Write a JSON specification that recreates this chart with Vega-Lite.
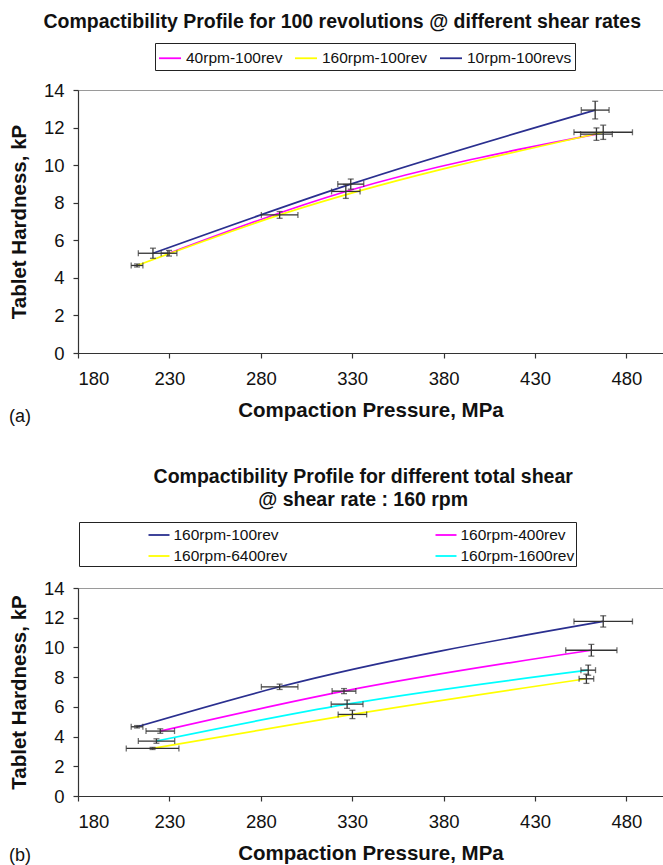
{
  "$schema": "https://vega.github.io/schema/vega-lite/v6.json",
  "background": "white",
  "padding": {"left": 8, "top": 11, "right": 0, "bottom": 0},
  "config": {
    "font": "Liberation Sans",
    "view": {"stroke": "#9a9a9a", "strokeWidth": 1},
    "axis": {"grid": false, "labelFont": "Liberation Sans", "labelFontSize": 18.5, "labelColor": "#111", "titleFont": "Liberation Sans", "titleFontSize": 20.5, "titleFontWeight": "bold", "titleColor": "#111", "domainColor": "#333", "tickColor": "#333", "tickSize": 5, "domainWidth": 1.2, "tickWidth": 1.2},
    "axisX": {"labelPadding": 11, "titlePadding": 13},
    "axisY": {"labelPadding": 9, "titlePadding": 14},
    "legend": {"labelFont": "Liberation Sans", "labelFontSize": 15.5, "labelColor": "#111", "symbolType": "stroke", "symbolStrokeWidth": 1.8, "strokeColor": "#222", "padding": 4},
    "title": {"font": "Liberation Sans", "fontSize": 19.5, "fontWeight": "bold", "color": "#111"},
    "concat": {"spacing": 40}
  },
  "datasets": {
    "a": [
      {"series": "10rpm-100revs", "x": 221.0, "y": 5.31, "xlo": 213.0, "xhi": 229.0, "ylo": 5.04, "yhi": 5.58},
      {"series": "10rpm-100revs", "x": 329.2, "y": 8.99, "xlo": 322.1, "xhi": 336.3, "ylo": 8.72, "yhi": 9.26},
      {"series": "10rpm-100revs", "x": 462.9, "y": 12.93, "xlo": 455.3, "xhi": 470.5, "ylo": 12.46, "yhi": 13.4},
      {"series": "40rpm-100rev", "x": 229.8, "y": 5.31, "xlo": 225.5, "xhi": 234.1, "ylo": 5.16, "yhi": 5.46},
      {"series": "40rpm-100rev", "x": 326.5, "y": 8.6, "xlo": 318.7, "xhi": 334.3, "ylo": 8.23, "yhi": 8.97},
      {"series": "40rpm-100rev", "x": 463.6, "y": 11.65, "xlo": 454.9, "xhi": 472.3, "ylo": 11.32, "yhi": 11.98},
      {"series": "160rpm-100rev", "x": 212.3, "y": 4.66, "xlo": 209.1, "xhi": 215.5, "ylo": 4.58, "yhi": 4.74},
      {"series": "160rpm-100rev", "x": 290.3, "y": 7.35, "xlo": 280.3, "xhi": 300.3, "ylo": 7.17, "yhi": 7.53},
      {"series": "160rpm-100rev", "x": 467.3, "y": 11.75, "xlo": 451.3, "xhi": 483.3, "ylo": 11.37, "yhi": 12.13}
    ],
    "b": [
      {"series": "160rpm-100rev", "x": 212.3, "y": 4.66, "xlo": 209.1, "xhi": 215.5, "ylo": 4.58, "yhi": 4.74},
      {"series": "160rpm-100rev", "x": 290.3, "y": 7.35, "xlo": 280.3, "xhi": 300.3, "ylo": 7.17, "yhi": 7.53},
      {"series": "160rpm-100rev", "x": 467.3, "y": 11.75, "xlo": 451.3, "xhi": 483.3, "ylo": 11.37, "yhi": 12.13},
      {"series": "160rpm-400rev", "x": 225.0, "y": 4.37, "xlo": 217.2, "xhi": 232.8, "ylo": 4.22, "yhi": 4.52},
      {"series": "160rpm-400rev", "x": 325.5, "y": 7.06, "xlo": 319.0, "xhi": 332.0, "ylo": 6.89, "yhi": 7.23},
      {"series": "160rpm-400rev", "x": 460.8, "y": 9.81, "xlo": 446.8, "xhi": 474.8, "ylo": 9.42, "yhi": 10.2},
      {"series": "160rpm-1600rev", "x": 222.9, "y": 3.7, "xlo": 213.0, "xhi": 232.9, "ylo": 3.55, "yhi": 3.85},
      {"series": "160rpm-1600rev", "x": 327.2, "y": 6.18, "xlo": 318.5, "xhi": 335.9, "ylo": 5.9, "yhi": 6.46},
      {"series": "160rpm-1600rev", "x": 459.1, "y": 8.47, "xlo": 455.1, "xhi": 463.1, "ylo": 8.13, "yhi": 8.81},
      {"series": "160rpm-6400rev", "x": 220.8, "y": 3.2, "xlo": 206.4, "xhi": 235.2, "ylo": 3.13, "yhi": 3.27},
      {"series": "160rpm-6400rev", "x": 330.1, "y": 5.49, "xlo": 322.3, "xhi": 337.9, "ylo": 5.21, "yhi": 5.77},
      {"series": "160rpm-6400rev", "x": 458.1, "y": 7.89, "xlo": 454.1, "xhi": 462.1, "ylo": 7.58, "yhi": 8.2}
    ]
  },
  "resolve": {"scale": {"color": "independent"}, "legend": {"color": "independent"}},
  "vconcat": [
    {
      "title": {"text": "(a)", "orient": "bottom", "anchor": "start", "frame": "bounds", "fontSize": 18, "fontWeight": "normal", "offset": -14},
      "vconcat": [
        {
          "width": 585,
          "height": 263,
          "title": {"text": "Compactibility Profile for 100 revolutions @ different shear rates", "anchor": "middle", "frame": "bounds", "dx": 6, "offset": 49},
          "data": {"name": "a"},
          "layer": [
            {
              "mark": {"type": "line", "interpolate": "monotone", "strokeWidth": 1.7},
              "encoding": {
                "x": {"field": "x", "type": "quantitative", "scale": {"domain": [180, 500], "nice": false, "zero": false}, "title": "Compaction Pressure, MPa", "axis": {"values": [180, 230, 280, 330, 380, 430, 480]}},
                "y": {"field": "y", "type": "quantitative", "scale": {"domain": [0, 14], "nice": false}, "title": "Tablet Hardness, kP", "axis": {"values": [0, 2, 4, 6, 8, 10, 12, 14]}},
                "color": {"field": "series", "type": "nominal", "scale": {"domain": ["40rpm-100rev", "160rpm-100rev", "10rpm-100revs"], "range": ["#ff00ff", "#ffff00", "#2a2f8f"]}, "legend": {"orient": "none", "legendX": 77, "legendY": -47, "direction": "horizontal", "title": null, "symbolSize": 484, "labelOffset": 4, "columnPadding": 8, "padding": 3}}
              }
            },
            {
              "mark": {"type": "errorbar", "ticks": {"size": 6, "thickness": 1.3, "color": "#333"}, "rule": {"strokeWidth": 1.3, "color": "#333"}},
              "encoding": {"x": {"field": "xlo", "type": "quantitative", "title": "Compaction Pressure, MPa", "axis": {"values": [180, 230, 280, 330, 380, 430, 480]}}, "x2": {"field": "xhi"}, "y": {"field": "y", "type": "quantitative", "title": "Tablet Hardness, kP", "axis": {"values": [0, 2, 4, 6, 8, 10, 12, 14]}}}
            },
            {
              "mark": {"type": "errorbar", "ticks": {"size": 6, "thickness": 1.3, "color": "#333"}, "rule": {"strokeWidth": 1.3, "color": "#333"}},
              "encoding": {"y": {"field": "ylo", "type": "quantitative", "title": "Tablet Hardness, kP", "axis": {"values": [0, 2, 4, 6, 8, 10, 12, 14]}}, "y2": {"field": "yhi"}, "x": {"field": "x", "type": "quantitative", "title": "Compaction Pressure, MPa", "axis": {"values": [180, 230, 280, 330, 380, 430, 480]}}}
            }
          ]
        }
      ]
    },
    {
      "title": {"text": "(b)", "orient": "bottom", "anchor": "start", "frame": "bounds", "fontSize": 18, "fontWeight": "normal", "offset": -18},
      "vconcat": [
        {
          "width": 585,
          "height": 208,
          "title": {"text": ["Compactibility Profile for different total shear", "@ shear rate : 160 rpm"], "anchor": "middle", "frame": "bounds", "dx": 27, "offset": 69, "lineHeight": 22.5},
          "data": {"name": "b"},
          "layer": [
            {
              "mark": {"type": "line", "interpolate": "monotone", "strokeWidth": 1.7},
              "encoding": {
                "x": {"field": "x", "type": "quantitative", "scale": {"domain": [180, 500], "nice": false, "zero": false}, "title": "Compaction Pressure, MPa", "axis": {"values": [180, 230, 280, 330, 380, 430, 480]}},
                "y": {"field": "y", "type": "quantitative", "scale": {"domain": [0, 14], "nice": false}, "title": "Tablet Hardness, kP", "axis": {"values": [0, 2, 4, 6, 8, 10, 12, 14]}},
                "color": {"field": "series", "type": "nominal", "scale": {"domain": ["160rpm-100rev", "160rpm-400rev", "160rpm-6400rev", "160rpm-1600rev"], "range": ["#2a2f8f", "#ff00ff", "#ffff00", "#00ffff"]}, "legend": {"orient": "none", "legendX": 1, "legendY": -66, "direction": "horizontal", "columns": 2, "title": null, "symbolSize": 441, "symbolOffset": 67, "labelOffset": 3, "columnPadding": 80, "rowPadding": 1, "padding": 1.5}}
              }
            },
            {
              "mark": {"type": "errorbar", "ticks": {"size": 6, "thickness": 1.3, "color": "#333"}, "rule": {"strokeWidth": 1.3, "color": "#333"}},
              "encoding": {"x": {"field": "xlo", "type": "quantitative", "title": "Compaction Pressure, MPa", "axis": {"values": [180, 230, 280, 330, 380, 430, 480]}}, "x2": {"field": "xhi"}, "y": {"field": "y", "type": "quantitative", "title": "Tablet Hardness, kP", "axis": {"values": [0, 2, 4, 6, 8, 10, 12, 14]}}}
            },
            {
              "mark": {"type": "errorbar", "ticks": {"size": 6, "thickness": 1.3, "color": "#333"}, "rule": {"strokeWidth": 1.3, "color": "#333"}},
              "encoding": {"y": {"field": "ylo", "type": "quantitative", "title": "Tablet Hardness, kP", "axis": {"values": [0, 2, 4, 6, 8, 10, 12, 14]}}, "y2": {"field": "yhi"}, "x": {"field": "x", "type": "quantitative", "title": "Compaction Pressure, MPa", "axis": {"values": [180, 230, 280, 330, 380, 430, 480]}}}
            }
          ]
        }
      ]
    }
  ]
}
